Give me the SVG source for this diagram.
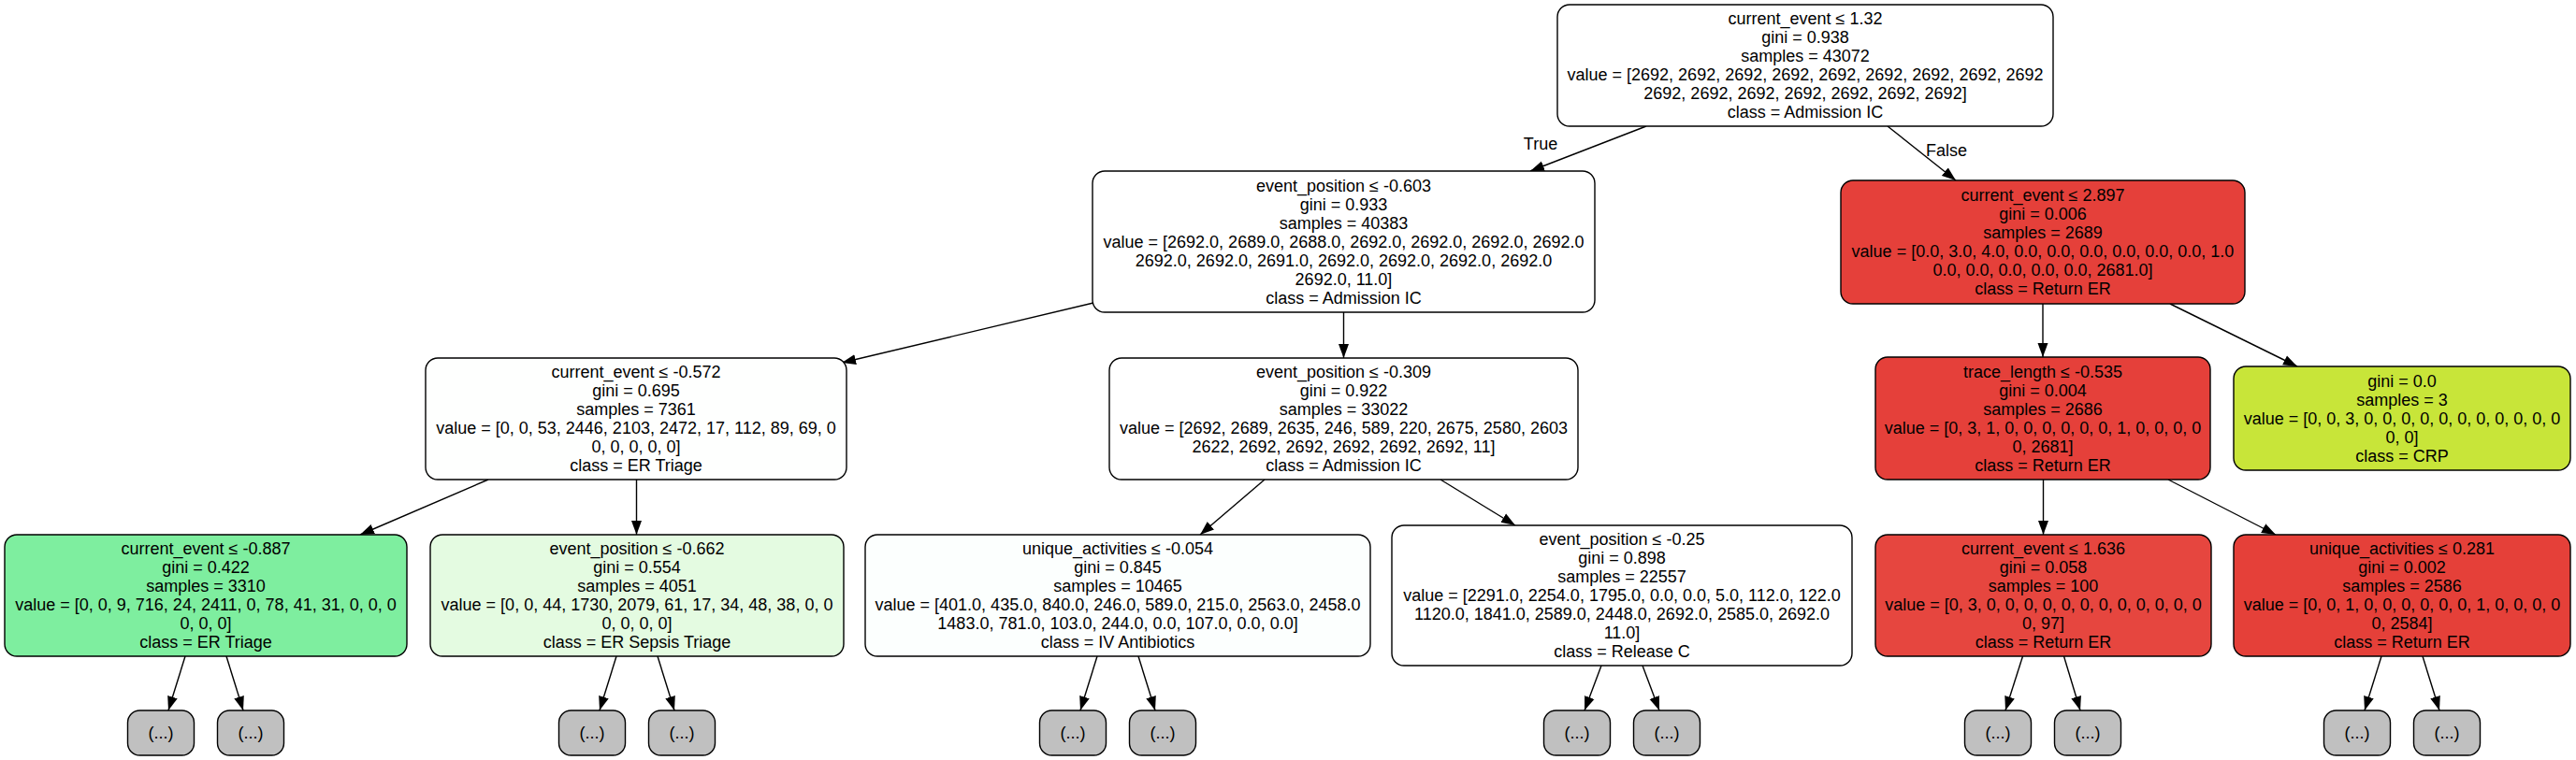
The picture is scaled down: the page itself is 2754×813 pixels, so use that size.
<svg xmlns="http://www.w3.org/2000/svg" width="2754" height="813" viewBox="0 0 2754 813">
<style>
.n rect{stroke:#000;stroke-width:1.4}
text{font-family:"Liberation Sans",Arial,Helvetica,sans-serif;font-size:18px;text-anchor:middle;fill:#000}
.e line{stroke:#000;stroke-width:1.4;marker-end:url(#ah)}
.w{fill:#ffffff}
.lf{fill:#c0c0c0}
</style>
<defs>
<marker id="ah" markerUnits="userSpaceOnUse" viewBox="0 0 16 12" markerWidth="16" markerHeight="12" refX="15" refY="6" orient="auto"><path d="M0,0.5 L15,6 L0,11.5 Z" fill="#000"/></marker>
</defs>
<rect width="2754" height="813" fill="#fff"/>
<g id="edges" class="e">
<line x1="1760" y1="135" x2="1636" y2="183"/>
<line x1="2018" y1="135" x2="2091" y2="193"/>
<line x1="1169" y1="324" x2="900" y2="388"/>
<line x1="1436.5" y1="334" x2="1436.5" y2="383"/>
<line x1="2184" y1="325" x2="2184" y2="382"/>
<line x1="2320" y1="325" x2="2456" y2="392"/>
<line x1="522" y1="513" x2="385" y2="572"/>
<line x1="680.5" y1="513" x2="680.5" y2="572"/>
<line x1="1352" y1="513" x2="1283" y2="572"/>
<line x1="1540" y1="513" x2="1620" y2="562"/>
<line x1="2184.5" y1="513" x2="2184.5" y2="572"/>
<line x1="2318" y1="513" x2="2433" y2="572"/>
<line x1="198" y1="702" x2="180" y2="760"/>
<line x1="242" y1="702" x2="260" y2="760"/>
<line x1="659" y1="702" x2="641" y2="760"/>
<line x1="703" y1="702" x2="721" y2="760"/>
<line x1="1173" y1="702" x2="1155" y2="760"/>
<line x1="1217" y1="702" x2="1235" y2="760"/>
<line x1="1712" y1="712" x2="1694" y2="760"/>
<line x1="1756" y1="712" x2="1774" y2="760"/>
<line x1="2162.5" y1="702" x2="2144" y2="760"/>
<line x1="2206.5" y1="702" x2="2224" y2="760"/>
<line x1="2546" y1="702" x2="2528" y2="760"/>
<line x1="2590" y1="702" x2="2608" y2="760"/>
<text x="1647" y="160">True</text>
<text x="2081" y="167">False</text>
</g>
<g id="n0" class="n"><rect class="w" x="1665" y="5" width="530" height="130" rx="13"/>
<text x="1930" y="26">current_event ≤ 1.32</text><text x="1930" y="46">gini = 0.938</text><text x="1930" y="66">samples = 43072</text><text x="1930" y="86">value = [2692, 2692, 2692, 2692, 2692, 2692, 2692, 2692, 2692</text><text x="1930" y="106">2692, 2692, 2692, 2692, 2692, 2692, 2692]</text><text x="1930" y="126">class = Admission IC</text></g>
<g id="n1" class="n"><rect class="w" x="1168" y="183" width="537" height="151" rx="13"/>
<text x="1436.5" y="204.5">event_position ≤ -0.603</text><text x="1436.5" y="224.5">gini = 0.933</text><text x="1436.5" y="244.5">samples = 40383</text><text x="1436.5" y="264.5">value = [2692.0, 2689.0, 2688.0, 2692.0, 2692.0, 2692.0, 2692.0</text><text x="1436.5" y="284.5">2692.0, 2692.0, 2691.0, 2692.0, 2692.0, 2692.0, 2692.0</text><text x="1436.5" y="304.5">2692.0, 11.0]</text><text x="1436.5" y="324.5">class = Admission IC</text></g>
<g id="n2" class="n"><rect fill="#e5403a" x="1968" y="193" width="432" height="132" rx="13"/>
<text x="2184" y="215">current_event ≤ 2.897</text><text x="2184" y="235">gini = 0.006</text><text x="2184" y="255">samples = 2689</text><text x="2184" y="275">value = [0.0, 3.0, 4.0, 0.0, 0.0, 0.0, 0.0, 0.0, 0.0, 1.0</text><text x="2184" y="295">0.0, 0.0, 0.0, 0.0, 0.0, 2681.0]</text><text x="2184" y="315">class = Return ER</text></g>
<g id="n3" class="n"><rect fill="#fefffe" x="455" y="383" width="450" height="130" rx="13"/>
<text x="680" y="404">current_event ≤ -0.572</text><text x="680" y="424">gini = 0.695</text><text x="680" y="444">samples = 7361</text><text x="680" y="464">value = [0, 0, 53, 2446, 2103, 2472, 17, 112, 89, 69, 0</text><text x="680" y="484">0, 0, 0, 0, 0]</text><text x="680" y="504">class = ER Triage</text></g>
<g id="n4" class="n"><rect class="w" x="1186" y="383" width="501" height="130" rx="13"/>
<text x="1436.5" y="404">event_position ≤ -0.309</text><text x="1436.5" y="424">gini = 0.922</text><text x="1436.5" y="444">samples = 33022</text><text x="1436.5" y="464">value = [2692, 2689, 2635, 246, 589, 220, 2675, 2580, 2603</text><text x="1436.5" y="484">2622, 2692, 2692, 2692, 2692, 2692, 11]</text><text x="1436.5" y="504">class = Admission IC</text></g>
<g id="n5" class="n"><rect fill="#e5403a" x="2005" y="382" width="358" height="131" rx="13"/>
<text x="2184" y="404">trace_length ≤ -0.535</text><text x="2184" y="424">gini = 0.004</text><text x="2184" y="444">samples = 2686</text><text x="2184" y="464">value = [0, 3, 1, 0, 0, 0, 0, 0, 0, 1, 0, 0, 0, 0</text><text x="2184" y="484">0, 2681]</text><text x="2184" y="504">class = Return ER</text></g>
<g id="n6" class="n"><rect fill="#c8e539" x="2388" y="392" width="360" height="111" rx="13"/>
<text x="2568" y="414">gini = 0.0</text><text x="2568" y="434">samples = 3</text><text x="2568" y="454">value = [0, 0, 3, 0, 0, 0, 0, 0, 0, 0, 0, 0, 0, 0</text><text x="2568" y="474">0, 0]</text><text x="2568" y="494">class = CRP</text></g>
<g id="n7" class="n"><rect fill="#7eee9f" x="5" y="572" width="430" height="130" rx="13"/>
<text x="220" y="593">current_event ≤ -0.887</text><text x="220" y="613">gini = 0.422</text><text x="220" y="633">samples = 3310</text><text x="220" y="653">value = [0, 0, 9, 716, 24, 2411, 0, 78, 41, 31, 0, 0, 0</text><text x="220" y="673">0, 0, 0]</text><text x="220" y="693">class = ER Triage</text></g>
<g id="n8" class="n"><rect fill="#e4fbe1" x="460" y="572" width="442" height="130" rx="13"/>
<text x="681" y="593">event_position ≤ -0.662</text><text x="681" y="613">gini = 0.554</text><text x="681" y="633">samples = 4051</text><text x="681" y="653">value = [0, 0, 44, 1730, 2079, 61, 17, 34, 48, 38, 0, 0</text><text x="681" y="673">0, 0, 0, 0]</text><text x="681" y="693">class = ER Sepsis Triage</text></g>
<g id="n9" class="n"><rect fill="#fcfffe" x="925" y="572" width="540" height="130" rx="13"/>
<text x="1195" y="593">unique_activities ≤ -0.054</text><text x="1195" y="613">gini = 0.845</text><text x="1195" y="633">samples = 10465</text><text x="1195" y="653">value = [401.0, 435.0, 840.0, 246.0, 589.0, 215.0, 2563.0, 2458.0</text><text x="1195" y="673">1483.0, 781.0, 103.0, 244.0, 0.0, 107.0, 0.0, 0.0]</text><text x="1195" y="693">class = IV Antibiotics</text></g>
<g id="n10" class="n"><rect class="w" x="1488" y="562" width="492" height="150" rx="13"/>
<text x="1734" y="583">event_position ≤ -0.25</text><text x="1734" y="603">gini = 0.898</text><text x="1734" y="623">samples = 22557</text><text x="1734" y="643">value = [2291.0, 2254.0, 1795.0, 0.0, 0.0, 5.0, 112.0, 122.0</text><text x="1734" y="663">1120.0, 1841.0, 2589.0, 2448.0, 2692.0, 2585.0, 2692.0</text><text x="1734" y="683">11.0]</text><text x="1734" y="703">class = Release C</text></g>
<g id="n11" class="n"><rect fill="#e6463f" x="2005" y="572" width="359" height="130" rx="13"/>
<text x="2184.5" y="593">current_event ≤ 1.636</text><text x="2184.5" y="613">gini = 0.058</text><text x="2184.5" y="633">samples = 100</text><text x="2184.5" y="653">value = [0, 3, 0, 0, 0, 0, 0, 0, 0, 0, 0, 0, 0, 0</text><text x="2184.5" y="673">0, 97]</text><text x="2184.5" y="693">class = Return ER</text></g>
<g id="n12" class="n"><rect fill="#e54039" x="2388" y="572" width="360" height="130" rx="13"/>
<text x="2568" y="593">unique_activities ≤ 0.281</text><text x="2568" y="613">gini = 0.002</text><text x="2568" y="633">samples = 2586</text><text x="2568" y="653">value = [0, 0, 1, 0, 0, 0, 0, 0, 0, 1, 0, 0, 0, 0</text><text x="2568" y="673">0, 2584]</text><text x="2568" y="693">class = Return ER</text></g>
<g id="l1" class="n"><rect class="lf" x="136.5" y="760" width="71" height="48" rx="13"/><text x="172" y="790">(...)</text></g>
<g id="l2" class="n"><rect class="lf" x="232.5" y="760" width="71" height="48" rx="13"/><text x="268" y="790">(...)</text></g>
<g id="l3" class="n"><rect class="lf" x="597.5" y="760" width="71" height="48" rx="13"/><text x="633" y="790">(...)</text></g>
<g id="l4" class="n"><rect class="lf" x="693.5" y="760" width="71" height="48" rx="13"/><text x="729" y="790">(...)</text></g>
<g id="l5" class="n"><rect class="lf" x="1111.5" y="760" width="71" height="48" rx="13"/><text x="1147" y="790">(...)</text></g>
<g id="l6" class="n"><rect class="lf" x="1207.5" y="760" width="71" height="48" rx="13"/><text x="1243" y="790">(...)</text></g>
<g id="l7" class="n"><rect class="lf" x="1650.5" y="760" width="71" height="48" rx="13"/><text x="1686" y="790">(...)</text></g>
<g id="l8" class="n"><rect class="lf" x="1746.5" y="760" width="71" height="48" rx="13"/><text x="1782" y="790">(...)</text></g>
<g id="l9" class="n"><rect class="lf" x="2100.5" y="760" width="71" height="48" rx="13"/><text x="2136" y="790">(...)</text></g>
<g id="l10" class="n"><rect class="lf" x="2196.5" y="760" width="71" height="48" rx="13"/><text x="2232" y="790">(...)</text></g>
<g id="l11" class="n"><rect class="lf" x="2484.5" y="760" width="71" height="48" rx="13"/><text x="2520" y="790">(...)</text></g>
<g id="l12" class="n"><rect class="lf" x="2580.5" y="760" width="71" height="48" rx="13"/><text x="2616" y="790">(...)</text></g>
</svg>
